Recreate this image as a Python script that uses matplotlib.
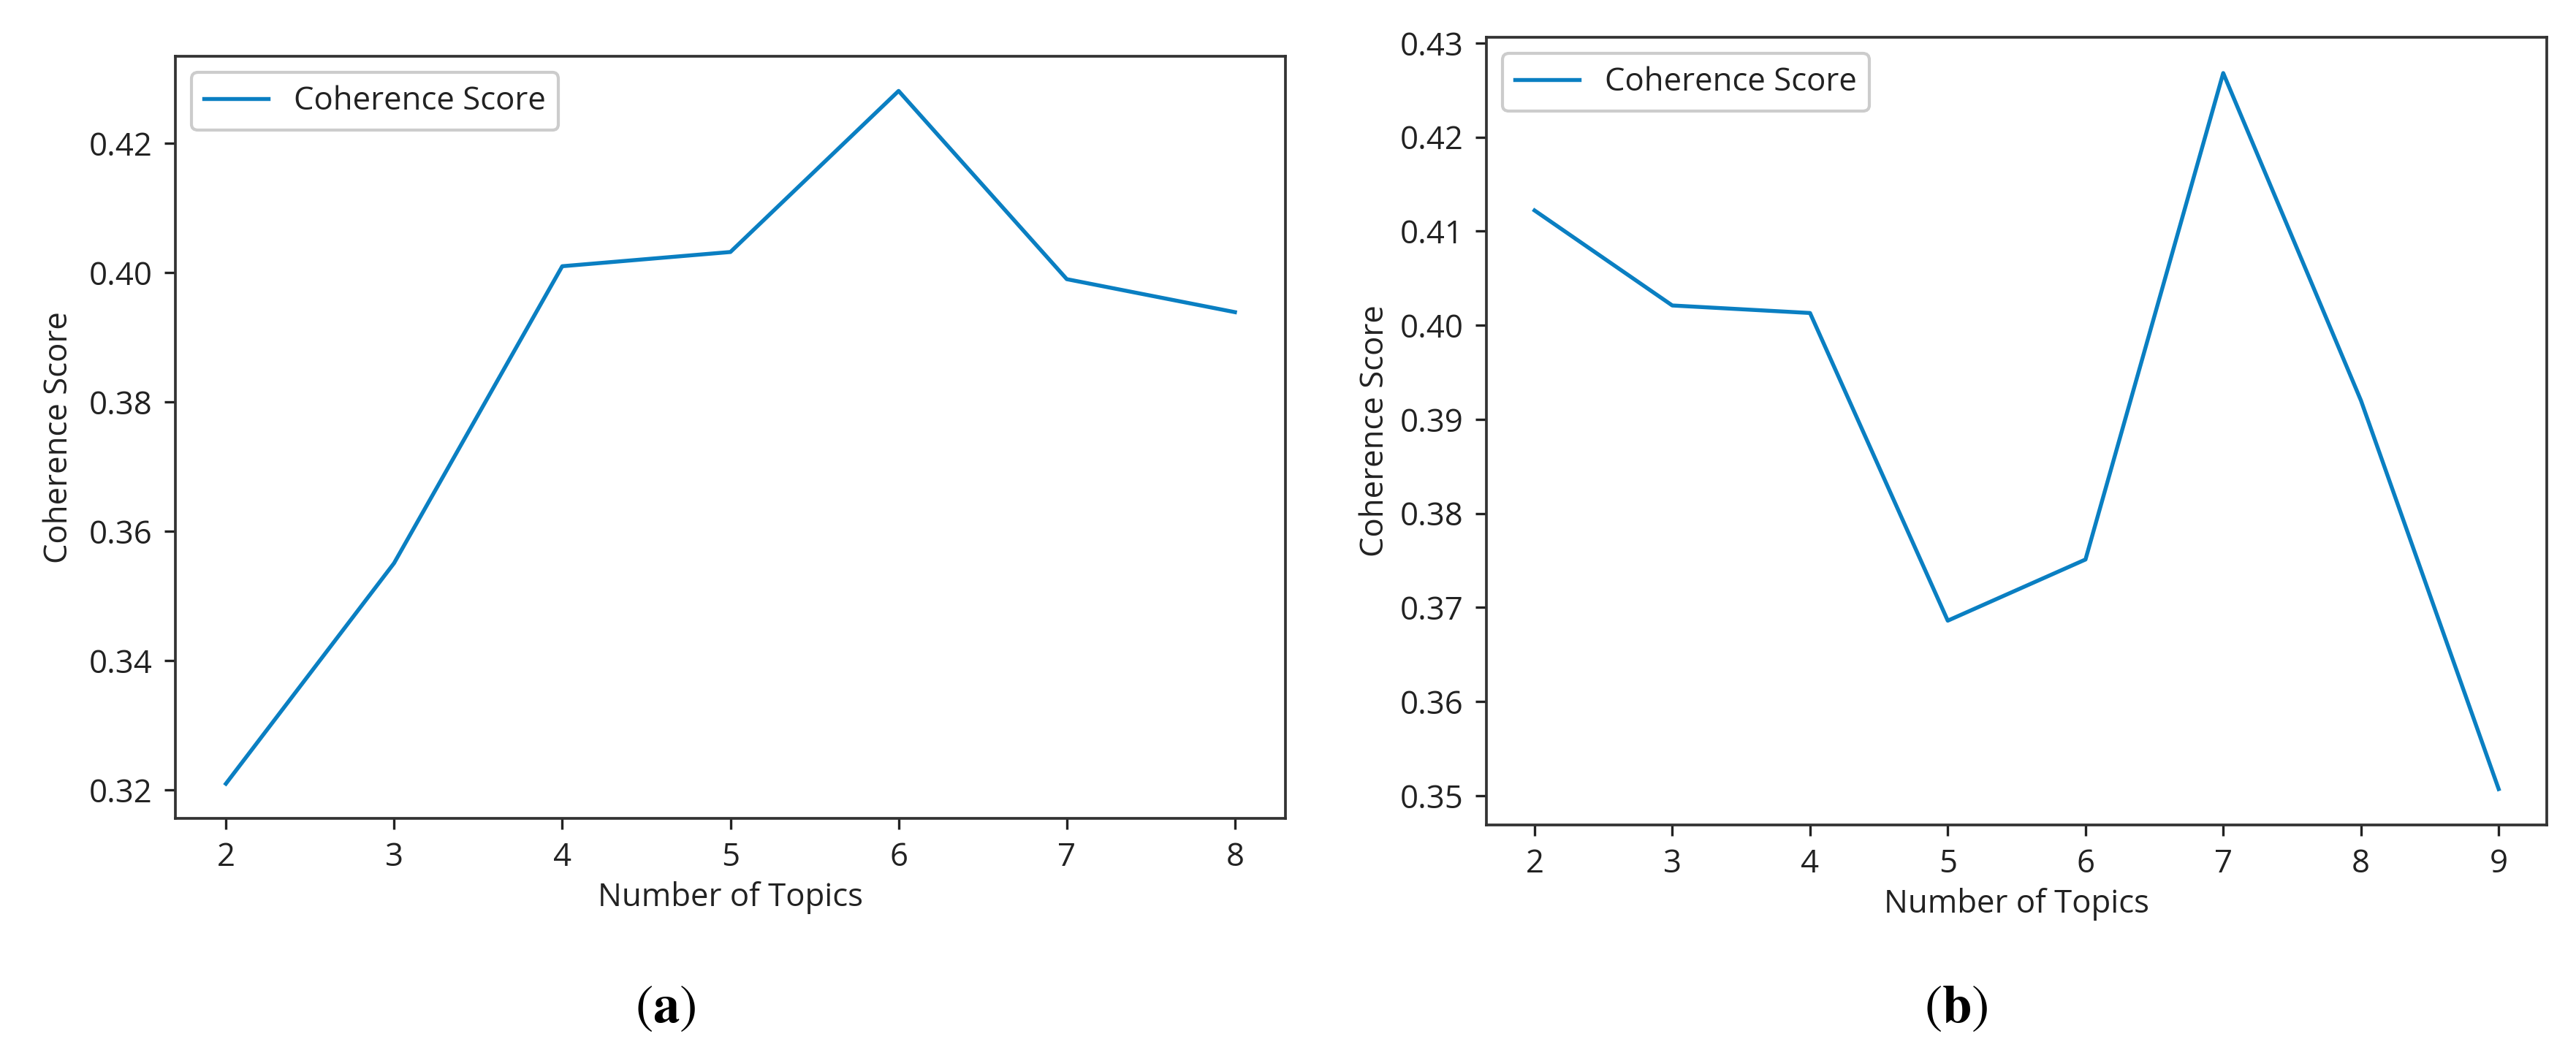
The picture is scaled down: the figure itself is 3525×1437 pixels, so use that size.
import matplotlib
matplotlib.use("Agg")
import matplotlib.pyplot as plt

plt.rcParams['font.family'] = ['Open Sans', 'DejaVu Sans']
plt.rcParams['mathtext.fontset'] = 'stix'

topics_a = [2, 3, 4, 5, 6, 7, 8]
scores_a = [0.321, 0.3551, 0.401, 0.4032, 0.4281, 0.399, 0.3939]

topics_b = [2, 3, 4, 5, 6, 7, 8, 9]
scores_b = [0.4122, 0.4021, 0.4013, 0.3686, 0.3751, 0.4268, 0.392, 0.3507]

yticks_a = [0.32, 0.34, 0.36, 0.38, 0.40, 0.42]
yticks_b = [0.35, 0.36, 0.37, 0.38, 0.39, 0.40, 0.41, 0.42, 0.43]

line_color = '#0a7fc2'
text_color = '#222222'
fs = 10.5

fig = plt.figure(figsize=(11.75, 4.79), dpi=300)
ax1 = fig.add_axes([0.0681, 0.2206, 0.4309, 0.7258])
ax2 = fig.add_axes([0.5770, 0.2144, 0.4117, 0.7501])

for ax, x, y, yt in [(ax1, topics_a, scores_a, yticks_a), (ax2, topics_b, scores_b, yticks_b)]:
    ax.plot(x, y, color=line_color, lw=1.3, label='Coherence Score')
    ax.set_xticks(x)
    ax.set_yticks(yt)
    ax.set_yticklabels([f'{v:.2f}' for v in yt])
    ax.tick_params(labelsize=fs, colors=text_color, width=0.8, length=3.5, pad=4)
    for s in ax.spines.values():
        s.set_linewidth(0.9)
        s.set_color('#333333')
    ax.set_xlabel('Number of Topics', fontsize=fs, color=text_color, va='center')
    ax.set_ylabel('Coherence Score', fontsize=fs, color=text_color, va='center')
    ax.yaxis.set_label_coords(-0.105, 0.5)
    leg = ax.legend(loc='upper left', fontsize=fs, frameon=True, fancybox=True,
                    edgecolor='#cccccc', framealpha=1.0, handlelength=2.0)
    for t in leg.get_texts():
        t.set_color(text_color)

ax1.xaxis.set_label_coords(0.5, -0.1045)
ax2.xaxis.set_label_coords(0.5, -0.101)

fig.text(0.2584, 0.0397, r'$(\mathbf{a})$', ha='center', va='center', fontsize=17.5, color='black')
fig.text(0.7594, 0.0397, r'$(\mathbf{b})$', ha='center', va='center', fontsize=17.5, color='black')

fig.savefig('out.png', dpi=300, facecolor='white')
